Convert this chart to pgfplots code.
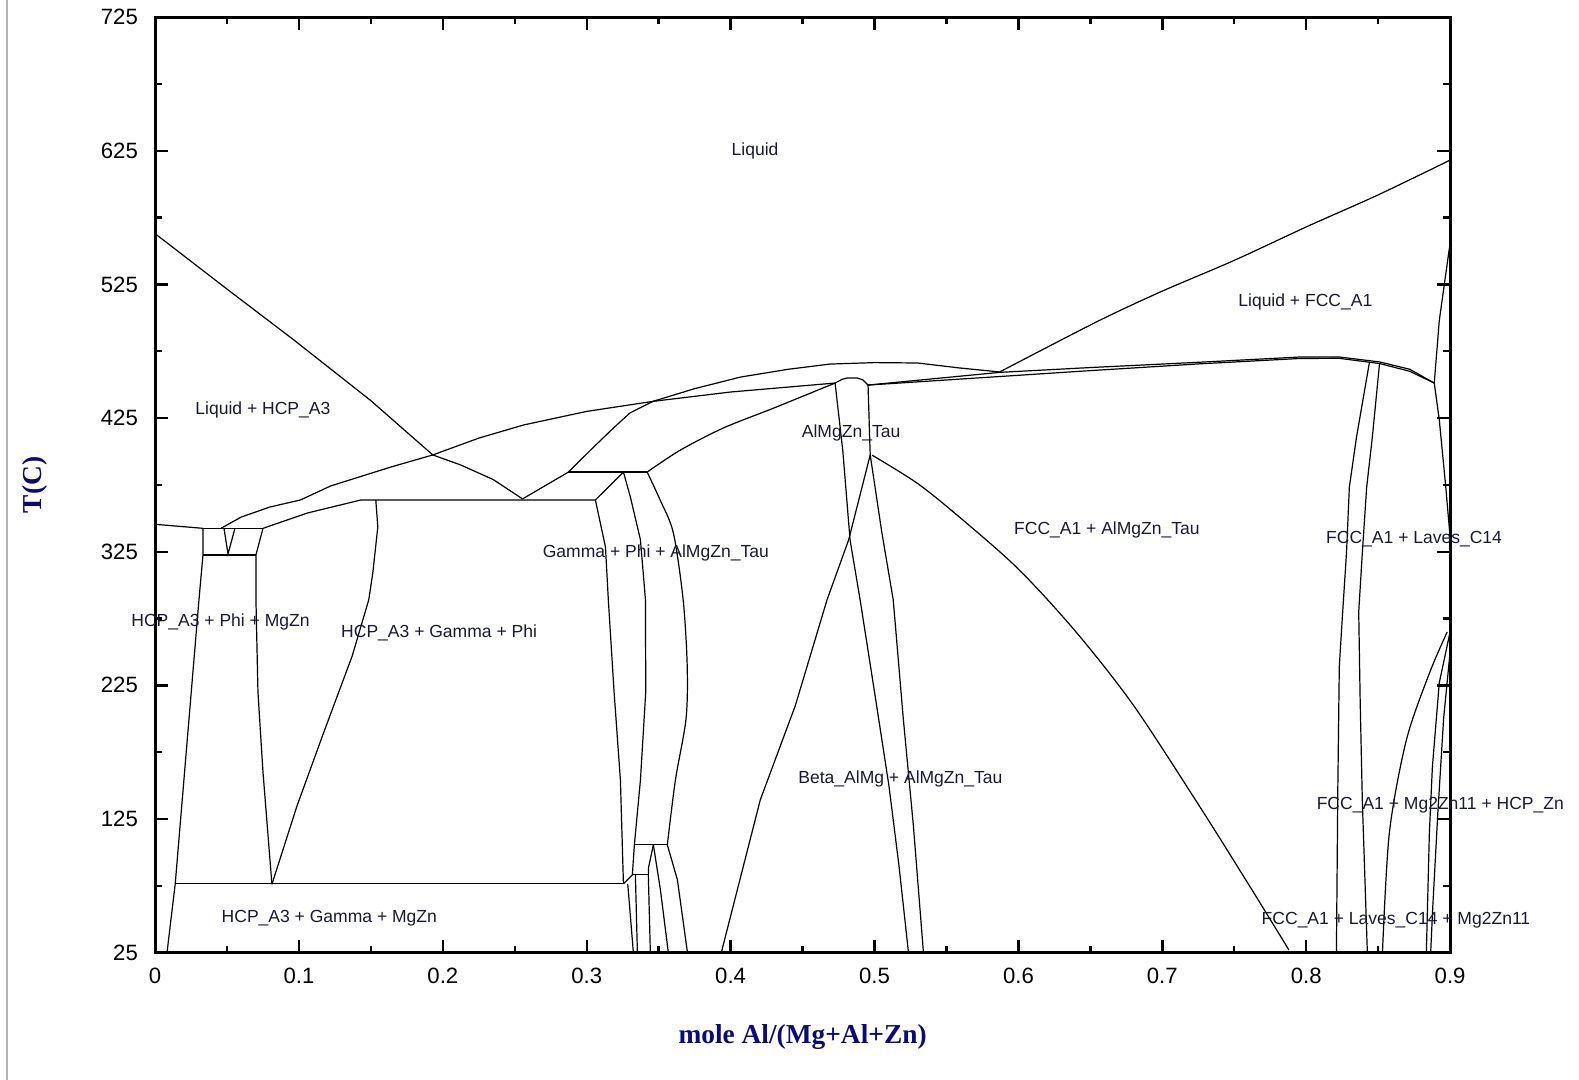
\documentclass[border=0pt]{standalone}
\usepackage{fontspec}
\setmainfont{Liberation Sans}
\newfontfamily\serifbold{Liberation Serif}
\usepackage{pgfplots}
\pgfplotsset{compat=1.18}
\definecolor{navy}{RGB}{10,10,128}
\definecolor{lbl}{RGB}{25,25,55}
\tikzset{lab/.style={font=\fontsize{8.7}{10}\selectfont, text=lbl, inner sep=0pt, yshift=-1pt}}
\begin{document}
\begin{tikzpicture}
\path[use as bounding box] (-77pt,-63pt) rectangle (707pt,473pt);
\draw[gray!60, line width=0.8pt] (-73.5pt,-63pt) -- (-73.5pt,473pt);
\begin{axis}[
  scale only axis, width=643pt, height=464.5pt,
  xmin=0, xmax=0.9, ymin=25, ymax=725,
  clip=false,
  xtick={0,0.1,0.2,0.3,0.4,0.5,0.6,0.7,0.8,0.9},
  xticklabels={0,0.1,0.2,0.3,0.4,0.5,0.6,0.7,0.8,0.9},
  ytick={25,125,225,325,425,525,625,725},
  yticklabels={25,125,225,325,425,525,625,725},
  minor x tick num=1, minor y tick num=1,
  tick align=inside,
  major tick length=6.5pt, minor tick length=3.5pt,
  every tick/.style={black, line width=1.2pt},
  axis line style={line width=1.5pt},
  ticklabel style={font=\fontsize{11}{13}\selectfont},
  yticklabel style={xshift=-5pt},
  xticklabel style={yshift=-4pt},
  xlabel={\serifbold\bfseries mole Al/(Mg+Al+Zn)},
  ylabel={\serifbold\bfseries T(C)},
  xlabel style={at={(axis description cs:0.5,-0.0904)}, anchor=center, font=\fontsize{13.6}{15}\selectfont, text=navy},
  ylabel style={at={(axis description cs:-0.0925,0.5)}, anchor=center, font=\fontsize{13.6}{15}\selectfont, text=navy},
  cycle list={{black, solid, mark=none, line width=0.6pt}},
  every axis plot post/.append style={black, solid, mark=none, line width=0.6pt},
]
% HCP liquidus
\addplot coordinates {(0,563) (0.05,521.5) (0.0965,483.4) (0.15,438) (0.193,397.4) (0.2124,389.9) (0.235,379) (0.2554,364.5)};
% curve A (upper liquidus)
\addplot coordinates {(0.0458,342.5) (0.06,351) (0.08,358.5) (0.101,363.7) (0.122,374.2) (0.164,388.4) (0.193,397.4) (0.225,410) (0.256,419.8) (0.3,430) (0.346,437.5) (0.375,447) (0.407,455.7) (0.44,461.5) (0.469,465.4) (0.50,466.5) (0.530,466.2) (0.559,462.5) (0.587,459.5)};
% eutectic right branch
\addplot coordinates {(0.2554,364.5) (0.2873,384.6)};
% upper plateau
\addplot coordinates {(0.2873,384.6) (0.342,384.6)};
% curve from plateau left to crossing
\addplot coordinates {(0.2873,384.6) (0.3026,401) (0.318,417) (0.330,428.8) (0.346,437.5)};
% crossing to dome
\addplot coordinates {(0.346,437.5) (0.40,444.5) (0.4726,451.2)};
% curve from plateau right to dome
\addplot[smooth, tension=0.5] coordinates {(0.342,384.6) (0.365,401) (0.395,417.6) (0.43,432.5) (0.4726,451.2)};
% Tau dome
\addplot coordinates {(0.4726,451.2) (0.4775,454) (0.481,455) (0.488,455) (0.492,453.5) (0.4955,449.7)};
% solidus lines right of dome
\addplot coordinates {(0.4955,449.7) (0.587,459.2) (0.65,462.8) (0.7264,466.8) (0.7958,470.7) (0.823,470.7) (0.851,467) (0.872,461.5) (0.889,451.2)};
\addplot coordinates {(0.4955,449.7) (0.55,453.5) (0.65,460.5) (0.7264,465.6) (0.7958,469.6) (0.823,469.7) (0.851,465.8) (0.872,460) (0.889,451.2)};
% FCC liquidus
\addplot[smooth, tension=0.5] coordinates {(0.587,459.5) (0.62,478) (0.66,500) (0.7,520) (0.75,543) (0.8,568) (0.85,592) (0.9,618)};
% right FCC solidus / solvus
\addplot coordinates {(0.9,556) (0.8925,498) (0.889,451.2) (0.8925,423.6) (0.897,373.4) (0.9,336)};
% Laves lines
\addplot coordinates {(0.844,467) (0.835,411) (0.830,373.4) (0.828,324) (0.825,274) (0.823,239) (0.822,150) (0.821,25)};
\addplot coordinates {(0.851,466.2) (0.846,411) (0.842,373) (0.839,324) (0.8365,280) (0.8375,214) (0.839,139) (0.8425,25)};
% right lower lines
\addplot[smooth, tension=0.5] coordinates {(0.898,265) (0.8856,234) (0.8696,184) (0.8578,114.6) (0.853,25)};
\addplot coordinates {(0.9,265) (0.8925,227) (0.8877,164) (0.8856,114.6) (0.8835,25)};
\addplot coordinates {(0.9,250) (0.8955,200) (0.8915,130) (0.888,60) (0.8865,25)};
% Tau single-phase boundaries
\addplot coordinates {(0.4726,451.2) (0.478,400) (0.483,333.8) (0.49,288.9) (0.5,220) (0.51,150) (0.517,90) (0.5236,25)};
\addplot coordinates {(0.4955,449.7) (0.497,397.4) (0.505,340) (0.513,288.9) (0.52,200) (0.527,120) (0.534,25)};
% X line
\addplot coordinates {(0.497,397.4) (0.482,333.8) (0.467,289) (0.445,210) (0.4206,139.3) (0.3935,25)};
% FCC + Tau boundary
\addplot[smooth, tension=0.5] coordinates {(0.4984,397.2) (0.53,376) (0.56,350) (0.6,312) (0.64,265) (0.68,210) (0.726,134.3) (0.76,76) (0.788,27)};
% Gamma right boundary
\addplot coordinates {(0.306,363.7) (0.313,328.6) (0.315,289) (0.319,220) (0.3234,154) (0.3255,76.5)};
\addplot coordinates {(0.306,363.7) (0.3255,384.6)};
% Phi lines
\addplot coordinates {(0.3255,384.6) (0.3303,366) (0.3373,334) (0.3408,289) (0.341,220) (0.3373,154) (0.3331,105.7) (0.3317,83.2)};
\addplot[smooth, tension=0.5] coordinates {(0.342,384.6) (0.351,363.7) (0.3602,339) (0.367,289) (0.3698,240) (0.369,200) (0.3616,154) (0.356,105.7)};
% low region near 0.33
\addplot coordinates {(0.3255,76.5) (0.3317,83.2)};
\addplot coordinates {(0.3285,76.5) (0.3324,25)};
\addplot coordinates {(0.3338,83.2) (0.3352,25)};
\addplot coordinates {(0.3317,83.2) (0.3428,83.2)};
\addplot coordinates {(0.3428,83.2) (0.3442,25)};
\addplot coordinates {(0.3331,105.7) (0.356,105.7)};
\addplot coordinates {(0.3463,105.7) (0.343,89) (0.3428,83.2)};
\addplot coordinates {(0.3463,105.7) (0.3512,72) (0.3567,25)};
\addplot coordinates {(0.356,105.7) (0.363,79.5) (0.37,25)};
% lower plateau 364 and Phi upper boundary
\addplot coordinates {(0.075,342.5) (0.106,354) (0.143,363.7) (0.306,363.7)};
% Phi right boundary
\addplot coordinates {(0.1534,363.7) (0.1548,343.5) (0.1513,309) (0.1485,289) (0.137,247) (0.1166,188) (0.0987,135) (0.0812,76.2)};
% left three-phase box
\addplot coordinates {(0,345.5) (0.02,343.7) (0.0333,342.5)};
\addplot coordinates {(0.0333,342.5) (0.075,342.5)};
\addplot coordinates {(0.0479,342.5) (0.0507,323.3) (0.0555,342.5)};
\addplot coordinates {(0.0333,322.6) (0.0701,322.6)};
\addplot coordinates {(0.0333,342.5) (0.0333,322.6) (0.0305,289) (0.014,76.5) (0.0083,25)};
\addplot coordinates {(0.075,342.5) (0.0701,322.6) (0.0701,289) (0.0715,220) (0.075,160) (0.0812,76.2)};
% HCP + Gamma + MgZn plateau
\addplot coordinates {(0.014,76.5) (0.3255,76.5)};
% labels
\node[lab] at (axis cs:0.417,626.3) {Liquid};
\node[lab] at (axis cs:0.7994,513.3) {Liquid + FCC\_A1};
\node[lab] at (axis cs:0.0749,432.6) {Liquid + HCP\_A3};
\node[lab] at (axis cs:0.4837,415.3) {AlMgZn\_Tau};
\node[lab] at (axis cs:0.6615,343) {FCC\_A1 + AlMgZn\_Tau};
\node[lab] at (axis cs:0.875,336.2) {FCC\_A1 + Laves\_C14};
\node[lab] at (axis cs:0.348,325.6) {Gamma + Phi + AlMgZn\_Tau};
\node[lab] at (axis cs:0.0455,273.7) {HCP\_A3 + Phi + MgZn};
\node[lab] at (axis cs:0.1974,266.1) {HCP\_A3 + Gamma + Phi};
\node[lab] at (axis cs:0.518,156.1) {Beta\_AlMg + AlMgZn\_Tau};
\node[lab] at (axis cs:0.8932,136.5) {FCC\_A1 + Mg2Zn11 + HCP\_Zn};
\node[lab] at (axis cs:0.1211,52.1) {HCP\_A3 + Gamma + MgZn};
\node[lab] at (axis cs:0.8624,50.6) {FCC\_A1 + Laves\_C14 + Mg2Zn11};
\end{axis}
\end{tikzpicture}
\end{document}
